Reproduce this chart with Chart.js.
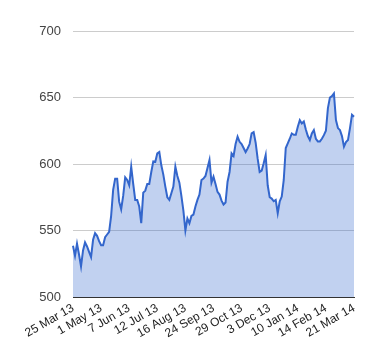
<!DOCTYPE html>
<html>
<head>
<meta charset="utf-8">
<script src="https://cdn.jsdelivr.net/npm/chart.js@4"></script>
<style>
  body { margin: 0; background: #fff; }
  #wrap { width: 380px; height: 360px; position: relative; }
</style>
</head>
<body>
<div id="wrap"><canvas id="myChart"></canvas></div>
<script>
const tickLabels = ['25 Mar 13', '1 May 13', '7 Jun 13', '12 Jul 13', '16 Aug 13', '24 Sep 13',
  '29 Oct 13', '3 Dec 13', '10 Jan 14', '14 Feb 14', '21 Mar 14'];
const yTicks = [500, 550, 600, 650, 700];
const precios = [
  538.5, 531, 540, 532, 523, 535, 541, 538, 534, 530,
  543, 548, 546, 542, 539, 539, 545, 547, 549, 561,
  580.5, 589, 589, 571.7, 566, 576, 590, 588, 584, 598,
  585, 573, 573, 568, 555.5, 578.5, 580, 585, 585, 594,
  602, 601.7, 608, 609, 599, 592, 583, 575, 573, 578,
  583, 598, 591, 586, 576, 565, 550, 559, 555.5, 561,
  562, 568, 573, 577, 588, 589, 591, 597, 603, 586,
  590.5, 585, 579, 577, 572.5, 569.5, 571, 586.7, 594, 608,
  606, 615, 620.5, 616.7, 615, 612, 609, 611.7, 615, 623,
  624, 616, 604, 594, 595, 600.5, 606.7, 584, 575, 574,
  572, 573, 563, 572, 575.5, 588, 612, 615.5, 619, 623,
  622, 622, 628, 633, 630.5, 632, 626, 621, 618, 623,
  625.5, 619, 617, 617, 619, 621.7, 625, 642, 650, 651,
  653, 633, 627, 625.5, 621, 613, 616.5, 618, 627, 637,
  635.5
];
const paso = 14;
let precioChart;

function initChart(){
    const ctx = document.getElementById('myChart').getContext('2d');
    const etiquetas = precios.map((v, i) => i % paso === 0 ? tickLabels[i / paso] : '');

    precioChart = new Chart(ctx, {
    type: 'line',
    data: {
        labels: etiquetas,
        datasets: [{
            data: precios,
            borderColor: '#3366cc',
            borderWidth: 2,
            backgroundColor: 'rgba(51, 102, 204, 0.3)',
            fill: 'start',
            pointRadius: 0,
            tension: 0
        }]
    },
    options: {
        responsive: true,
        maintainAspectRatio: false,
        animation: false,
        layout: { padding: { top: 31, right: 26, left: 0, bottom: 0 } },
        plugins: {
            legend: { display: false },
            tooltip: { enabled: false }
        },
        scales: {
            x: {
                grid: { display: false, drawTicks: false },
                border: { display: true, color: '#333333', width: 1 },
                ticks: {
                    autoSkip: false,
                    minRotation: 30,
                    maxRotation: 30,
                    padding: 4,
                    color: '#222222',
                    font: { family: 'Arial, "Liberation Sans"', size: 12 }
                },
                afterFit: function(scale){ scale.height = 63; }
            },
            y: {
                min: 500,
                max: 700,
                afterBuildTicks: function(scale){
                    scale.ticks = yTicks.map(v => ({ value: v }));
                },
                grid: { color: '#cccccc', drawTicks: false },
                border: { display: false },
                ticks: {
                    padding: 12,
                    color: '#444444',
                    font: { family: 'Arial, "Liberation Sans"', size: 13 }
                },
                afterFit: function(scale){ scale.width = 73; }
            }
        }
    }
    });
}

initChart();
</script>
</body>
</html>
